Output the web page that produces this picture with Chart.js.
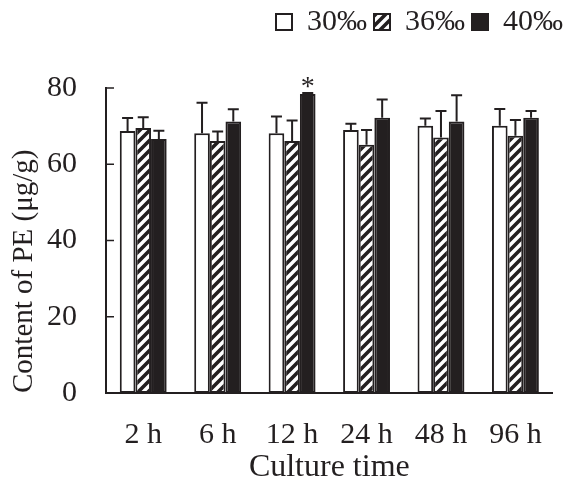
<!DOCTYPE html>
<html>
<head>
<meta charset="utf-8">
<script src="https://cdn.jsdelivr.net/npm/chart.js@4.4.1/dist/chart.umd.min.js"></script>
<style>
  html, body { margin: 0; padding: 0; background: #fff; }
  #wrap { width: 566px; height: 483px; }
</style>
</head>
<body>
<div id="wrap"><canvas id="peChart" width="566" height="483"></canvas></div>
<script>
// --- Data ---
const times = ['2 h', '6 h', '12 h', '24 h', '48 h', '96 h'];
const salinities = ['30‰', '36‰', '40‰'];
const pe30 = [68.7, 68.1, 68.1, 69.0, 70.1, 70.1];
const pe36 = [69.5, 66.1, 66.1, 65.1, 67.0, 67.5];
const pe40 = [66.6, 71.2, 78.4, 72.2, 71.2, 72.2];
const sd30 = [3.4, 8.0, 4.4, 1.6, 1.9, 4.4];
const sd36 = [2.8, 2.5, 5.4, 3.9, 7.0, 4.1];
const sd40 = [2.2, 3.2, 0.3, 4.8, 6.9, 1.8];
const sig40 = ['', '', '*', '', '', ''];
const yTicks = [0, 20, 40, 60, 80];

const INK = '#231f20';
const SERIF = "'Liberation Serif', 'Times New Roman', serif";

// --- Hatch pattern for 36‰ ---
function makeHatch() {
    const c = document.createElement('canvas');
    c.width = 10; c.height = 10;
    const g = c.getContext('2d');
    g.fillStyle = '#fff';
    g.fillRect(0, 0, 10, 10);
    g.strokeStyle = INK;
    g.lineWidth = 3.6;
    g.beginPath();
    g.moveTo(-5, 5); g.lineTo(5, -5);
    g.moveTo(0, 10); g.lineTo(10, 0);
    g.moveTo(5, 15); g.lineTo(15, 5);
    g.stroke();
    return g.createPattern(c, 'repeat');
}
const hatch = makeHatch();

// --- Plugins ---
// legend block is taller than its one line, so the plot starts lower;
// also nudge it to the right edge of the page
const legendPlace = {
    id: 'legendPlace',
    beforeLayout(chart) {
        const lg = chart.legend;
        if (lg && !lg._fixedFit) {
            const fit = lg.fit.bind(lg);
            lg.fit = function () { fit(); this.height = 88; };
            lg._fixedFit = true;
        }
    },
    afterLayout(chart) {
        const lg = chart.legend;
        if (lg) { lg.left += 8; lg.right += 8; }
    }
};

const errorBars = {
    id: 'errorBars',
    afterDatasetsDraw(chart) {
        const ctx = chart.ctx;
        const y = chart.scales.y;
        ctx.save();
        ctx.strokeStyle = INK;
        ctx.lineWidth = 2;
        chart.data.datasets.forEach((ds, di) => {
            const meta = chart.getDatasetMeta(di);
            meta.data.forEach((bar, i) => {
                const top = y.getPixelForValue(ds.data[i] + ds.sd[i]);
                ctx.beginPath();
                ctx.moveTo(bar.x, bar.y);
                ctx.lineTo(bar.x, top);
                ctx.moveTo(bar.x - 5.5, top);
                ctx.lineTo(bar.x + 5.5, top);
                ctx.stroke();
                if (ds.sig && ds.sig[i]) {
                    ctx.fillStyle = INK;
                    ctx.font = '28px ' + SERIF;
                    ctx.textAlign = 'center';
                    ctx.textBaseline = 'alphabetic';
                    ctx.fillText(ds.sig[i], bar.x, top + 2);
                }
            });
        });
        ctx.restore();
    }
};

// y ticks point inwards
const innerTicks = {
    id: 'innerTicks',
    afterDraw(chart) {
        const ctx = chart.ctx;
        const y = chart.scales.y;
        const left = chart.chartArea.left;
        ctx.save();
        ctx.strokeStyle = INK;
        ctx.lineWidth = 1.5;
        yTicks.forEach(v => {
            const py = y.getPixelForValue(v);
            ctx.beginPath();
            ctx.moveTo(left, py);
            ctx.lineTo(left + 8, py);
            ctx.stroke();
        });
        ctx.restore();
    }
};

// --- Chart ---
const ctx = document.getElementById('peChart').getContext('2d');
const chart = new Chart(ctx, {
    type: 'bar',
    data: {
        labels: times,
        datasets: [
            { label: salinities[0], data: pe30, sd: sd30, backgroundColor: '#fff' },
            { label: salinities[1], data: pe36, sd: sd36, backgroundColor: hatch },
            { label: salinities[2], data: pe40, sd: sd40, sig: sig40, backgroundColor: INK }
        ]
    },
    options: {
        responsive: false,
        animation: false,
        layout: { padding: { top: 0, left: 0, right: 4, bottom: 0 } },
        datasets: {
            bar: {
                borderColor: INK,
                borderWidth: 2,
                borderSkipped: false,
                categoryPercentage: 0.63,
                barPercentage: 1.0
            }
        },
        plugins: {
            tooltip: { enabled: false },
            legend: {
                position: 'top',
                align: 'end',
                labels: {
                    color: INK,
                    font: { family: SERIF, size: 30 },
                    boxWidth: 16,
                    boxHeight: 16,
                    padding: 7
                }
            }
        },
        scales: {
            x: {
                grid: { display: false, drawTicks: false },
                border: { display: true, color: INK, width: 2 },
                ticks: { color: INK, font: { family: SERIF, size: 30 }, padding: 24 },
                title: {
                    display: true, text: 'Culture time', color: INK,
                    font: { family: SERIF, size: 32, lineHeight: 0.95 },
                    padding: { top: 0, bottom: 0 }
                },
                afterFit(s) { s.height = 90; }
            },
            y: {
                min: 0, max: 80,
                afterBuildTicks(s) { s.ticks = yTicks.map(v => ({ value: v })); },
                grid: { display: false, drawTicks: false },
                border: { display: true, color: INK, width: 2 },
                ticks: { color: INK, font: { family: SERIF, size: 30 }, padding: 29 },
                title: {
                    display: true, text: 'Content of PE (μg/g)', align: 'start', color: INK,
                    font: { family: SERIF, size: 29, lineHeight: 1.2 },
                    padding: { top: 7, bottom: 0 }
                },
                afterFit(s) { s.width = 106; }
            }
        }
    },
    plugins: [legendPlace, errorBars, innerTicks]
});
</script>
</body>
</html>
